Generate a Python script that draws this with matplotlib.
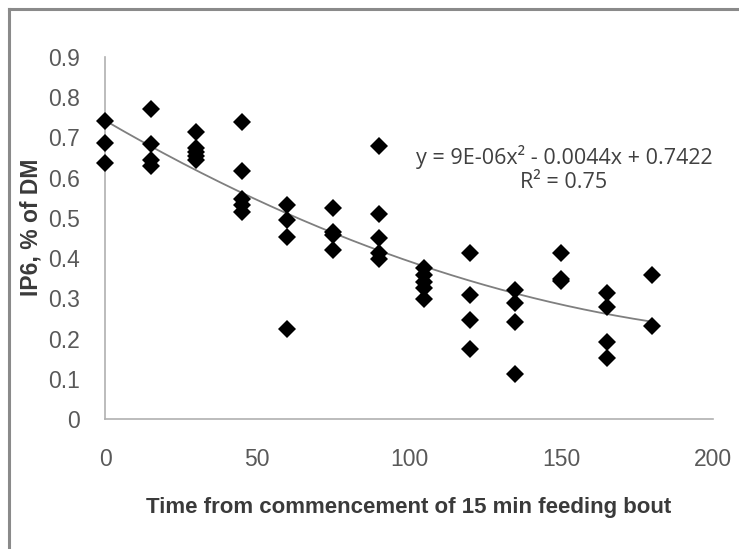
import matplotlib
matplotlib.use("Agg")
import matplotlib.pyplot as plt
import numpy as np
from matplotlib.lines import Line2D

# Data (time in minutes, IP6 % of DM)
time_min = [0, 0, 0,
            15, 15, 15, 15,
            30, 30, 30, 30, 30,
            45, 45, 45, 45, 45,
            60, 60, 60, 60,
            75, 75, 75, 75,
            90, 90, 90, 90, 90,
            105, 105, 105, 105, 105,
            120, 120, 120, 120,
            135, 135, 135, 135,
            150, 150, 150,
            165, 165, 165, 165,
            180, 180]
ip6 = [0.741, 0.687, 0.637,
       0.771, 0.684, 0.644, 0.629,
       0.714, 0.674, 0.664, 0.655, 0.644,
       0.739, 0.617, 0.547, 0.532, 0.515,
       0.532, 0.495, 0.453, 0.224,
       0.525, 0.465, 0.457, 0.420,
       0.679, 0.510, 0.450, 0.413, 0.398,
       0.376, 0.358, 0.340, 0.326, 0.298,
       0.413, 0.308, 0.246, 0.174,
       0.321, 0.289, 0.240, 0.112,
       0.413, 0.348, 0.343,
       0.313, 0.279, 0.192, 0.152,
       0.358, 0.231]

trend_coef = [9e-06, -0.0044, 0.7422]   # quadratic trendline
trend_range = [0, 180]
x_ticks = [0, 50, 100, 150, 200]
y_ticks = [0, 0.1, 0.2, 0.3, 0.4, 0.5, 0.6, 0.7, 0.8, 0.9]
y_tick_labels = ["0", "0.1", "0.2", "0.3", "0.4", "0.5", "0.6", "0.7", "0.8", "0.9"]
equation_text = "y = 9E-06x² - 0.0044x + 0.7422"
r2_text = "R² = 0.75"

W, H = 739, 549
fig = plt.figure(figsize=(W / 100, H / 100), dpi=100)
ax = fig.add_axes([105 / W, 1 - 419 / H, (713 - 105) / W, (419 - 57) / H])

ax.plot(time_min, ip6, linestyle="none", marker="D", markersize=8.8,
        color="black", markeredgewidth=0, zorder=3, clip_on=False)

xs = np.linspace(trend_range[0], trend_range[1], 200)
ax.plot(xs, np.polyval(trend_coef, xs), color="#7f7f7f", linewidth=1.3, zorder=2)

ax.set_xlim(0, 200)
ax.set_ylim(0, 0.9)
ax.set_xticks(x_ticks)
ax.set_yticks(y_ticks)
ax.set_yticklabels(y_tick_labels)
for s in ["top", "right"]:
    ax.spines[s].set_visible(False)
for s in ["left", "bottom"]:
    ax.spines[s].set_color("#b0b0b0")
    ax.spines[s].set_linewidth(1.2)
ax.tick_params(axis="both", length=0, labelcolor="#595959", labelsize=16.5)
ax.tick_params(axis="x", pad=21)
ax.tick_params(axis="y", pad=18)
for lab in ax.get_xticklabels() + ax.get_yticklabels():
    lab.set_family("Liberation Sans")

ax.set_xlabel("Time from commencement of 15 min feeding bout", fontsize=16,
              fontweight="bold", color="#3a3a3a", family="Liberation Sans")
ax.xaxis.set_label_coords(0.5, -(508 - 419) / (419 - 57), transform=ax.transAxes)
ax.xaxis.label.set_va("center")
ax.set_ylabel("IP6, % of DM", fontsize=16.5, fontweight="bold", color="#3a3a3a",
              family="Liberation Sans")
ax.yaxis.set_label_coords(-(105 - 31) / (713 - 105), (419 - 227) / (419 - 57),
                          transform=ax.transAxes)
ax.yaxis.label.set_va("center")

fig.text(564 / W, 1 - 157 / H, equation_text, ha="center", va="center",
         fontsize=15.5, color="#404040", family="Open Sans")
fig.text(564 / W, 1 - 183 / H, r2_text, ha="center", va="center",
         fontsize=15.5, color="#404040", family="Open Sans")

# chart border (top and left visible)
fig.add_artist(Line2D([9 / W, 1.0], [1 - 9 / H, 1 - 9 / H], color="#8a8a8a", linewidth=2.2))
fig.add_artist(Line2D([9 / W, 9 / W], [0, 1 - 9 / H], color="#8a8a8a", linewidth=2.2))

fig.savefig("out.png", dpi=100)
